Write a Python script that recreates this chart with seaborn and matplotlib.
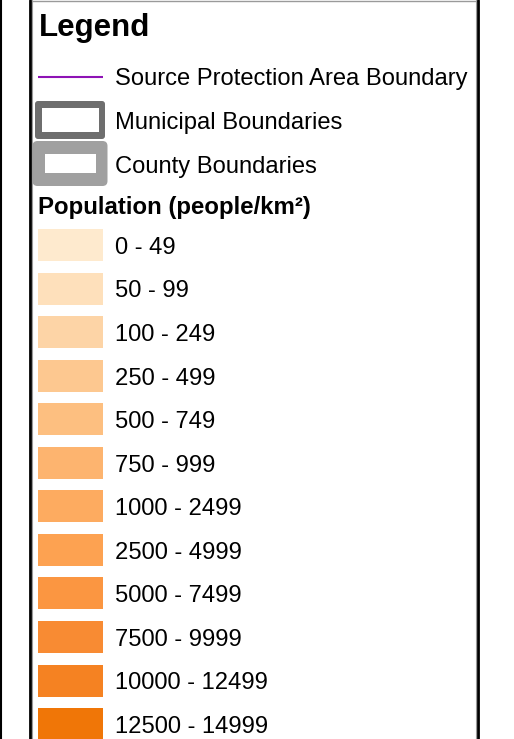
import matplotlib.pyplot as plt
import seaborn as sns
from matplotlib.patches import FancyBboxPatch, Rectangle

# classes de densidade populacional e suas cores
classes = ["0 - 49", "50 - 99", "100 - 249", "250 - 499", "500 - 749", "750 - 999",
           "1000 - 2499", "2500 - 4999", "5000 - 7499", "7500 - 9999",
           "10000 - 12499", "12500 - 14999"]
cores = ["#feeace", "#fee0bb", "#fdd4a6", "#fdc890", "#fdbf80", "#fdb46f",
         "#fdab60", "#fda251", "#fb9641", "#f88b33", "#f58222", "#f07607"]
comprimento = [1] * len(classes)

# itens de limites
limites = ["Source Protection Area Boundary", "Municipal Boundaries", "County Boundaries"]
cores_limites = ["#8e13b5", "#6e6e6e", "#a0a0a0"]

titulo = "Legend"
subtitulo = "Population (people/km²)"

sns.set_theme(style="white")
plt.rcParams['font.family'] = ['Liberation Sans', 'DejaVu Sans']
plt.rcParams['text.color'] = 'black'

W, H = 514, 739
fig = plt.figure(figsize=(W / 100, H / 100), dpi=100)
fig.patch.set_facecolor("white")

# eixo de fundo em pixels
ax = fig.add_axes([0, 0, 1, 1])
ax.set_xlim(0, W)
ax.set_ylim(H, 0)
ax.axis("off")

# moldura
ax.plot([31.5, 476.5], [0.6, 0.6], color="#9a9a9a", lw=1.0)
ax.plot([32, 32], [0, H], color="#9a9a9a", lw=0.8)
ax.plot([476, 476], [0, H], color="#9a9a9a", lw=0.8)
ax.plot([1, 1], [0, H], color="black", lw=1.5)
ax.plot([30.2, 30.2], [0, H], color="black", lw=2.0)
ax.plot([478, 478], [0, H], color="black", lw=2.0)

ax.text(39, 36, titulo, fontsize=22.5, fontweight="bold", va="baseline")

# linha da área de proteção
ax.plot([37.5, 103], [76.5, 76.5], color=cores_limites[0], lw=1.5, solid_capstyle="butt")
# municípios
ax.add_patch(FancyBboxPatch((35, 101), 70, 38, boxstyle="round,pad=0,rounding_size=3",
                            fc=cores_limites[1], ec="none"))
ax.add_patch(Rectangle((41.5, 108), 57, 24, fc="white", ec="none"))
# condados
ax.add_patch(FancyBboxPatch((32.5, 141), 75, 45, boxstyle="round,pad=0,rounding_size=5",
                            fc=cores_limites[2], ec="none"))
ax.add_patch(Rectangle((45, 154), 51, 19, fc="white", ec="none"))

for nome, yb in zip(limites, [85, 129, 173]):
    ax.text(115, yb, nome, fontsize=17.1, va="baseline")

ax.text(38, 214, subtitulo, fontsize=17.3, fontweight="bold", va="baseline")

# eixo das amostras de cor
passo = 43.55
topo = 245 - 0.5 * passo
base = 245 + (len(classes) - 0.5) * passo
ax_sw = fig.add_axes([38 / W, (H - base) / H, 440 / W, (base - topo) / H])
sns.barplot(x=comprimento, y=classes, hue=classes, palette=cores, orient="h",
            width=32 / passo, saturation=1, legend=False, linewidth=0, ax=ax_sw)
ax_sw.set_xlim(0, 440 / 65)
ax_sw.set_ylim(len(classes) - 0.5, -0.5)
ax_sw.axis("off")

for i, rotulo in enumerate(classes):
    ax_sw.text(1.185, i + 0.205, rotulo, fontsize=17.1, va="baseline")

fig.savefig("out.png", dpi=100)
